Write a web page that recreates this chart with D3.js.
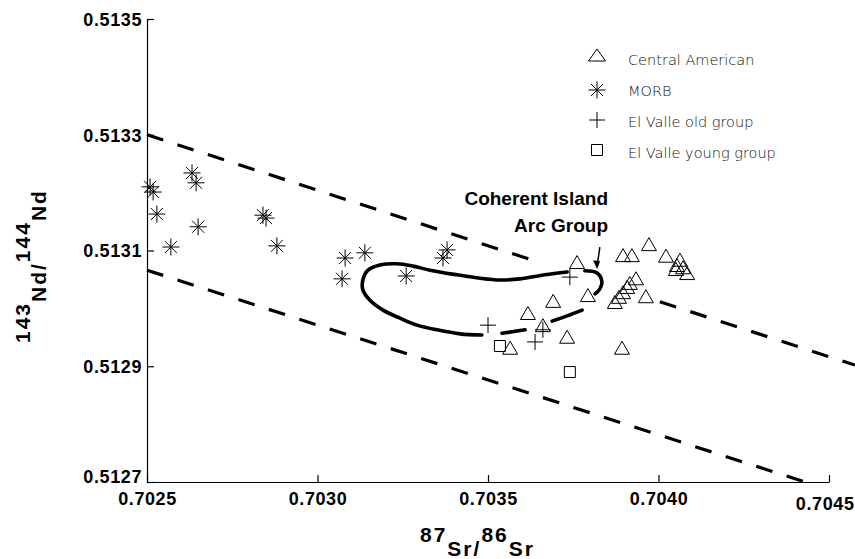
<!DOCTYPE html>
<html><head><meta charset="utf-8">
<script src="https://cdn.jsdelivr.net/npm/d3@7/dist/d3.min.js"></script>
<style>body{margin:0;background:#fff} svg{display:block}</style>
</head><body><svg id="chart" width="855" height="559"></svg>
<script>
// ---- data ----
const xTicks = [0.7025, 0.7030, 0.7035, 0.7040, 0.7045];
const yTicks = [0.5127, 0.5129, 0.5131, 0.5133, 0.5135];
const legendLabels = ["Central American", "MORB", "El Valle old group", "El Valle young group"];
const annotationLines = ["Coherent Island", "Arc Group"];

const centralAmerican = [
  [0.703972,0.513111],[0.703896,0.513092],[0.703922,0.513092],[0.704022,0.513091],
  [0.704063,0.513084],[0.704054,0.513075],[0.704072,0.513071],[0.704051,0.513068],
  [0.704084,0.513061],[0.703934,0.513052],[0.703916,0.513044],[0.703908,0.513037],
  [0.703896,0.513028],[0.703884,0.513020],[0.703872,0.513011],[0.703963,0.513021],
  [0.703761,0.513080],[0.703793,0.513023],[0.703691,0.513013],[0.703617,0.512992],
  [0.703661,0.512971],[0.703732,0.512951],[0.703565,0.512932],[0.703893,0.512932]
];
const morb = [
  [0.702509,0.513210],[0.702518,0.513201],[0.702632,0.513234],[0.702644,0.513217],
  [0.702529,0.513163],[0.702650,0.513141],[0.702570,0.513106],[0.702840,0.513161],
  [0.702849,0.513156],[0.702881,0.513108],[0.703081,0.513087],[0.703139,0.513096],
  [0.703072,0.513051],[0.703260,0.513056],[0.703380,0.513101],[0.703368,0.513087]
];
const elValleOld = [[0.703500,0.512971],[0.703661,0.512963],[0.703638,0.512942],[0.703740,0.513054]];
const elValleYoung = [[0.703535,0.512935],[0.703740,0.512890]];

// bounding dashed lines
const upperLineA = [[0.7025,0.5133],[0.703632,0.513083]];
const upperLineB = [[0.704004,0.5130115],[0.704576,0.512902]];
const lowerLine = [[0.7025,0.513066],[0.704430,0.5127]];

// "Coherent Island Arc Group" outline pieces
const arcA = [[0.703732,0.513063],[0.703667,0.513058],[0.703594,0.513051],[0.703535,0.513049],
  [0.703477,0.513052],[0.703409,0.513058],[0.703330,0.513066],[0.703280,0.513073],
  [0.703233,0.513077],[0.703183,0.513075],[0.703148,0.513066],[0.703133,0.513049],
  [0.703133,0.513032],[0.703154,0.513014],[0.703192,0.512997],[0.703242,0.512983],
  [0.703292,0.512971],[0.703350,0.512963],[0.703418,0.512956],[0.703482,0.512954]];
const arcB = [[0.703541,0.512957],[0.703609,0.512963]];
const arcC = [[0.703688,0.512978],[0.703732,0.512987],[0.703776,0.512997]];
const arcD = [[0.703784,0.513065],[0.703820,0.513061],[0.703834,0.513046],[0.703826,0.513032],[0.703814,0.513025]];
const arrowLine = [[0.703828,0.513106],[0.703820,0.513073]];

// ---- drawing ----
const svg = d3.select('#chart');
const x = d3.scaleLinear().domain([0.7025, 0.7045]).range([147, 829]);
const y = d3.scaleLinear().domain([0.5127, 0.5135]).range([482, 19]);
const boldFont = '"Liberation Sans", Arial, Helvetica, sans-serif';

const fmt = d3.format('.4f');
const gx = svg.append('g').attr('transform', 'translate(0,482)')
  .call(d3.axisBottom(x).tickValues(xTicks).tickSize(-7).tickSizeOuter(0).tickFormat(fmt));
const gy = svg.append('g').attr('transform', 'translate(147,0)')
  .call(d3.axisLeft(y).tickValues(yTicks).tickSize(-7).tickSizeOuter(0).tickFormat(fmt));
[gx, gy].forEach(g => {
  g.select('.domain').attr('stroke', '#000').attr('stroke-width', 1.2);
  g.selectAll('.tick line').attr('stroke', '#000').attr('stroke-width', 1.2);
  g.selectAll('text').attr('fill', '#000').style('font-family', boldFont)
    .style('font-weight', 'bold').style('font-size', '18px').style('letter-spacing', '0.6px');
});
const lastX = xTicks[xTicks.length - 1];
gx.selectAll('text').attr('dy', 0)
  .attr('y', d => d === lastX ? 28 : 23)
  .attr('text-anchor', d => d === lastX ? 'end' : 'middle')
  .attr('x', d => d === lastX ? 25 : 0);
gy.selectAll('text').attr('x', -5).attr('dy', d => d === 0.5127 ? '0' : '0.35em');

// axis titles
const xt = svg.append('text').attr('x', 420).attr('y', 542)
  .style('font-family', boldFont).style('font-weight', 'bold').style('font-size', '21px').style('letter-spacing', '2px');
xt.append('tspan').text('87');
xt.append('tspan').attr('dy', 14).text('Sr/');
xt.append('tspan').attr('dy', -14).text('86');
xt.append('tspan').attr('dy', 14).text('Sr');

const yt = svg.append('text').attr('transform', 'rotate(-90)').attr('x', -343).attr('y', 30)
  .style('font-family', boldFont).style('font-weight', 'bold').style('font-size', '21px').style('letter-spacing', '2px');
yt.append('tspan').text('143');
yt.append('tspan').attr('dy', 16).text('Nd/');
yt.append('tspan').attr('dy', -16).text('144');
yt.append('tspan').attr('dy', 16).text('Nd');

// dashed bounding lines
const line = d3.line().x(d => x(d[0])).y(d => y(d[1]));
[upperLineA, upperLineB, lowerLine].forEach(pts => {
  svg.append('path').attr('d', line(pts)).attr('fill', 'none').attr('stroke', '#000')
    .attr('stroke-width', 3.2).attr('stroke-dasharray', '17,15');
});

// arc group outline
const curve = d3.line().x(d => x(d[0])).y(d => y(d[1])).curve(d3.curveCatmullRom);
[arcA, arcB, arcC, arcD].forEach(pts => {
  svg.append('path').attr('d', curve(pts)).attr('fill', 'none').attr('stroke', '#000')
    .attr('stroke-width', 3.6).attr('stroke-linecap', 'round');
});
svg.append('path').attr('d', line(arrowLine)).attr('stroke', '#000').attr('stroke-width', 1.5).attr('fill', 'none');
{
  const ax = x(arrowLine[1][0]), ay = y(arrowLine[1][1]);
  svg.append('path').attr('d', `M${ax},${ay + 3}L${ax - 4},${ay - 6}L${ax + 3},${ay - 5}Z`).attr('fill', '#000');
}

// annotation
const ann = svg.append('text').attr('text-anchor', 'end')
  .style('font-family', boldFont).style('font-weight', 'bold').style('font-size', '19px');
annotationLines.forEach((t, i) => ann.append('tspan').attr('x', 608).attr('y', 205 + i * 27).text(t));

// marker shapes
const triPath = (w, h) => `M0,${-h / 2}L${w / 2},${h / 2}L${-w / 2},${h / 2}Z`;
const astPath = r => { const d = r * Math.SQRT1_2; return `M${-r},0H${r}M0,${-r}V${r}M${-d},${-d}L${d},${d}M${-d},${d}L${d},${-d}`; };
const plusPath = r => `M${-r},0H${r}M0,${-r}V${r}`;
const sqPath = s => `M${-s / 2},${-s / 2}h${s}v${s}h${-s}Z`;

function drawPoints(data, path) {
  svg.append('g').selectAll('path').data(data).join('path')
    .attr('transform', d => `translate(${x(d[0])},${y(d[1])})`)
    .attr('d', path).attr('fill', 'none').attr('stroke', '#000').attr('stroke-width', 1);
}
drawPoints(morb, astPath(8.5));
drawPoints(centralAmerican, triPath(15, 13));
drawPoints(elValleOld, plusPath(8));
drawPoints(elValleYoung, sqPath(11));

// legend
const legendShapes = [triPath(17, 12), astPath(8.5), plusPath(8), sqPath(11)];
const legendSymY = [55, 90, 120, 150];
const legendTextY = [65, 96, 127, 158];
const lg = svg.append('g');
legendLabels.forEach((lab, i) => {
  lg.append('path').attr('transform', `translate(597,${legendSymY[i]})`).attr('d', legendShapes[i])
    .attr('fill', 'none').attr('stroke', '#000').attr('stroke-width', 1);
  lg.append('text').attr('x', 628).attr('y', legendTextY[i]).text(lab)
    .style('font-family', '"DejaVu Sans", sans-serif').style('font-weight', 200)
    .style('font-size', '14.5px').attr('fill', '#111');
});
</script></body></html>
